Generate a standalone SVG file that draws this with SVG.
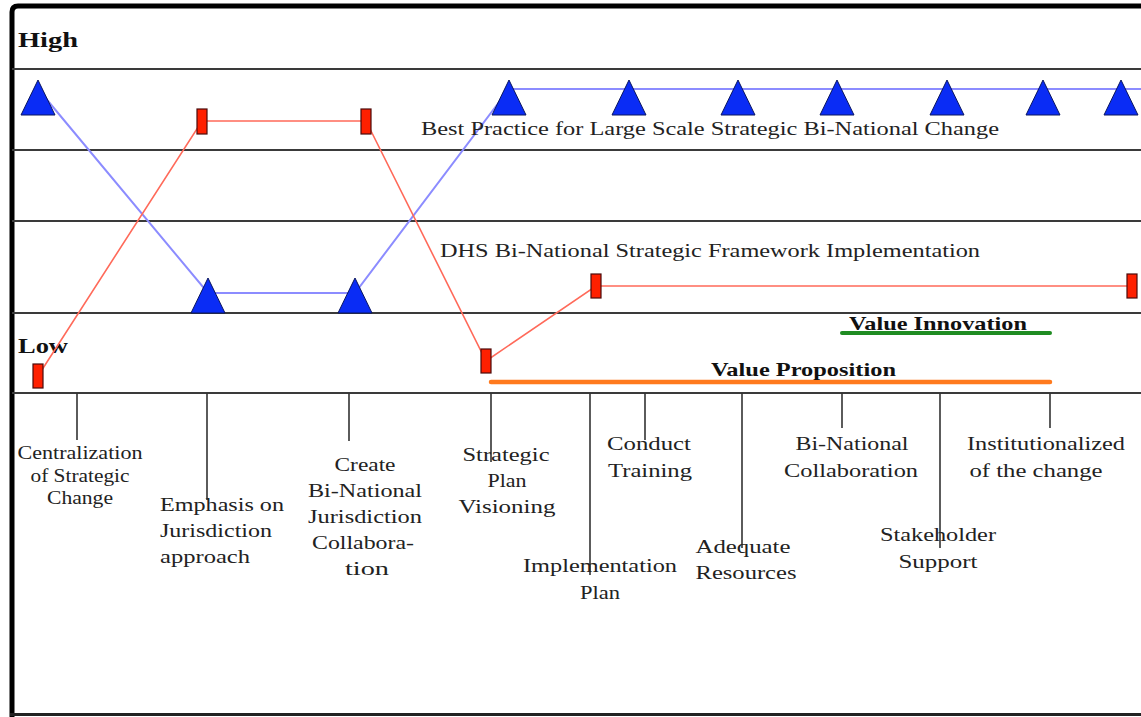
<svg xmlns="http://www.w3.org/2000/svg" width="1141" height="717" viewBox="0 0 1141 717">
<style>
.grid{stroke:#3a3a3a;stroke-width:2;fill:none}
.tick{stroke:#333;stroke-width:1.6;fill:none}
.tri{fill:#0a2cf5;stroke:#0a1660;stroke-width:1}
.mk{fill:#ff2000;stroke:#4a0a0a;stroke-width:1.2}
.blue{stroke:#8c8cff;stroke-width:2;fill:none}
.red{stroke:#ff6a5a;stroke-width:1.6;fill:none}
.lbl{font-family:"Liberation Serif","Times New Roman",serif;font-size:19px;fill:#222}
.c{text-anchor:middle}
.bold{font-family:"Liberation Serif","Times New Roman",serif;font-weight:bold;fill:#111}
</style>
<rect x="0" y="0" width="1141" height="717" fill="#fff"/>
<g id="frame">
<path d="M12,717 L12,12 Q12,6 18,6 L1141,6" fill="none" stroke="#000" stroke-width="5"/>
<line x1="10" y1="714.5" x2="1141" y2="714.5" stroke="#222" stroke-width="3"/>
</g>
<g id="grid">
<line class="grid" x1="12" y1="69" x2="1141" y2="69"/>
<line class="grid" x1="12" y1="150" x2="1141" y2="150"/>
<line class="grid" x1="12" y1="221" x2="1141" y2="221"/>
<line class="grid" x1="12" y1="313" x2="1141" y2="313"/>
<line class="grid" x1="12" y1="393" x2="1141" y2="393"/>
</g>
<g id="axis-labels">
<text class="bold" x="18" y="47" font-size="21" textLength="60" lengthAdjust="spacingAndGlyphs">High</text>
<text class="bold" x="18" y="353" font-size="21" textLength="50" lengthAdjust="spacingAndGlyphs">Low</text>
</g>
<g id="connectors">
<polyline class="blue" points="38,89 208,293 355,293 509,89 1141,89"/>
<polyline class="red" points="38,376 202,121 366,121 486,361 596,286 1132,286"/>
<line x1="491" y1="382" x2="1050" y2="382" stroke="#ff7a1e" stroke-width="4.5" stroke-linecap="round"/>
<line x1="842" y1="333" x2="1050" y2="333" stroke="#1f8c22" stroke-width="4" stroke-linecap="round"/>
<g id="ticks">
<line class="tick" x1="77" y1="393" x2="77" y2="440"/>
<line class="tick" x1="207" y1="393" x2="207" y2="500"/>
<line class="tick" x1="349" y1="393" x2="349" y2="441"/>
<line class="tick" x1="491" y1="393" x2="491" y2="462"/>
<line class="tick" x1="590" y1="393" x2="590" y2="575"/>
<line class="tick" x1="645" y1="393" x2="645" y2="440"/>
<line class="tick" x1="742" y1="393" x2="742" y2="548"/>
<line class="tick" x1="842" y1="393" x2="842" y2="428"/>
<line class="tick" x1="940" y1="393" x2="940" y2="548"/>
<line class="tick" x1="1050" y1="393" x2="1050" y2="428"/>
</g>
</g>
<g id="best-practice-series">
<polygon class="tri" points="38,80 21,115 55,115"/>
<polygon class="tri" points="208,278 191,313 225,313"/>
<polygon class="tri" points="355,278 338,313 372,313"/>
<polygon class="tri" points="509,80 492,115 526,115"/>
<polygon class="tri" points="629,80 612,115 646,115"/>
<polygon class="tri" points="738,80 721,115 755,115"/>
<polygon class="tri" points="837,80 820,115 854,115"/>
<polygon class="tri" points="947,80 930,115 964,115"/>
<polygon class="tri" points="1043,80 1026,115 1060,115"/>
<polygon class="tri" points="1121,80 1104,115 1138,115"/>
<text class="lbl" x="421" y="135" textLength="578" lengthAdjust="spacingAndGlyphs">Best Practice for Large Scale Strategic Bi-National Change</text>
</g>
<g id="dhs-series">
<rect class="mk" x="33" y="364" width="10" height="24"/>
<rect class="mk" x="197" y="109" width="10" height="25"/>
<rect class="mk" x="361" y="109" width="10" height="25"/>
<rect class="mk" x="481" y="349" width="10" height="24"/>
<rect class="mk" x="591" y="274" width="10" height="24"/>
<rect class="mk" x="1127" y="274" width="10" height="24"/>
<text class="lbl" x="440" y="257" textLength="540" lengthAdjust="spacingAndGlyphs">DHS Bi-National Strategic Framework Implementation</text>
</g>
<g id="value-innovation">
<text class="bold" x="849" y="330" font-size="19" textLength="178" lengthAdjust="spacingAndGlyphs">Value Innovation</text>
</g>
<g id="value-proposition">
<text class="bold" x="711" y="376" font-size="19" textLength="185" lengthAdjust="spacingAndGlyphs">Value Proposition</text>
</g>
<g id="milestone-centralization">
<text class="lbl c" x="80" y="459" textLength="125" lengthAdjust="spacingAndGlyphs">Centralization</text>
<text class="lbl c" x="80" y="482" textLength="99" lengthAdjust="spacingAndGlyphs">of Strategic</text>
<text class="lbl c" x="80" y="504" textLength="66" lengthAdjust="spacingAndGlyphs">Change</text>
</g>
<g id="milestone-emphasis">
<text class="lbl" x="160" y="511" textLength="124" lengthAdjust="spacingAndGlyphs">Emphasis on</text>
<text class="lbl" x="160" y="537" textLength="112" lengthAdjust="spacingAndGlyphs">Jurisdiction</text>
<text class="lbl" x="160" y="563" textLength="90" lengthAdjust="spacingAndGlyphs">approach</text>
</g>
<g id="milestone-create">
<text class="lbl c" x="365" y="471" textLength="61" lengthAdjust="spacingAndGlyphs">Create</text>
<text class="lbl c" x="365" y="497" textLength="114" lengthAdjust="spacingAndGlyphs">Bi-National</text>
<text class="lbl c" x="365" y="523" textLength="114" lengthAdjust="spacingAndGlyphs">Jurisdiction</text>
<text class="lbl c" x="363" y="549" textLength="102" lengthAdjust="spacingAndGlyphs">Collabora-</text>
<text class="lbl c" x="367" y="575" textLength="44" lengthAdjust="spacingAndGlyphs">tion</text>
</g>
<g id="milestone-strategic-plan">
<text class="lbl c" x="506" y="461" textLength="87" lengthAdjust="spacingAndGlyphs">Strategic</text>
<text class="lbl c" x="507" y="487" textLength="39" lengthAdjust="spacingAndGlyphs">Plan</text>
<text class="lbl c" x="507" y="513" textLength="97" lengthAdjust="spacingAndGlyphs">Visioning</text>
</g>
<g id="milestone-implementation">
<text class="lbl c" x="600" y="572" textLength="154" lengthAdjust="spacingAndGlyphs">Implementation</text>
<text class="lbl c" x="600" y="599" textLength="40" lengthAdjust="spacingAndGlyphs">Plan</text>
</g>
<g id="milestone-training">
<text class="lbl c" x="649" y="450" textLength="84" lengthAdjust="spacingAndGlyphs">Conduct</text>
<text class="lbl c" x="650" y="477" textLength="84" lengthAdjust="spacingAndGlyphs">Training</text>
</g>
<g id="milestone-resources">
<text class="lbl c" x="743" y="553" textLength="95" lengthAdjust="spacingAndGlyphs">Adequate</text>
<text class="lbl c" x="746" y="579" textLength="101" lengthAdjust="spacingAndGlyphs">Resources</text>
</g>
<g id="milestone-collaboration">
<text class="lbl c" x="852" y="450" textLength="113" lengthAdjust="spacingAndGlyphs">Bi-National</text>
<text class="lbl c" x="851" y="477" textLength="134" lengthAdjust="spacingAndGlyphs">Collaboration</text>
</g>
<g id="milestone-stakeholder">
<text class="lbl c" x="938" y="541" textLength="116" lengthAdjust="spacingAndGlyphs">Stakeholder</text>
<text class="lbl c" x="938" y="568" textLength="79" lengthAdjust="spacingAndGlyphs">Support</text>
</g>
<g id="milestone-institutionalized">
<text class="lbl c" x="1046" y="450" textLength="158" lengthAdjust="spacingAndGlyphs">Institutionalized</text>
<text class="lbl c" x="1036" y="477" textLength="133" lengthAdjust="spacingAndGlyphs">of the change</text>
</g>
</svg>
